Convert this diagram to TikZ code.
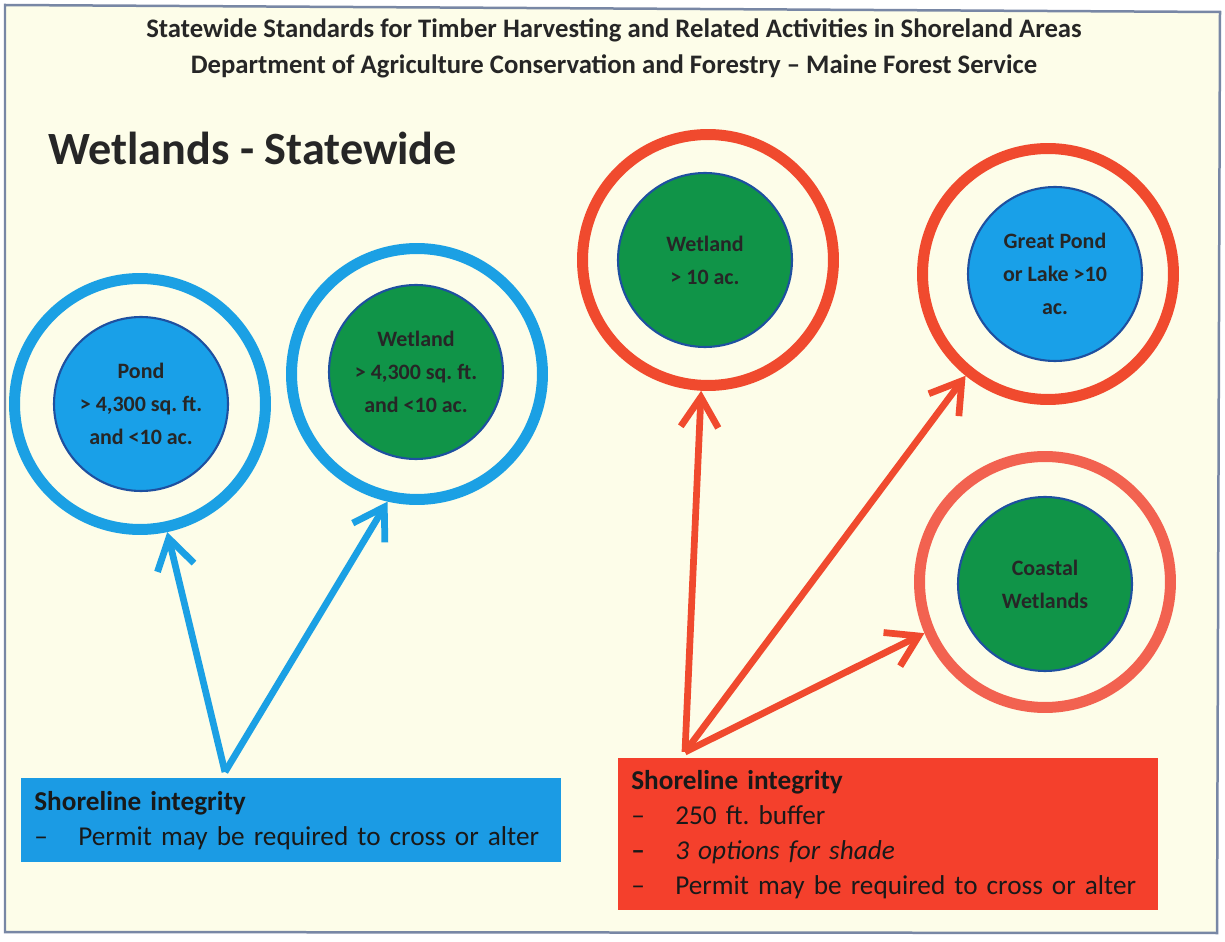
\documentclass[tikz,border=0pt]{standalone}
\usepackage{fontspec}
\setmainfont{Carlito}
\usetikzlibrary{arrows.meta}
\definecolor{cream}{RGB}{253,253,233}
\definecolor{framegray}{RGB}{120,135,165}
\definecolor{ringblue}{RGB}{27,160,228}
\definecolor{ringred}{RGB}{240,74,46}
\definecolor{ringsalmon}{RGB}{242,98,80}
\definecolor{discblue}{RGB}{25,160,232}
\definecolor{discgreen}{RGB}{16,148,72}
\definecolor{rimblue}{RGB}{30,80,160}
\definecolor{boxblue}{RGB}{27,155,228}
\definecolor{boxred}{RGB}{244,64,44}
\newcommand{\dashitem}[1]{\makebox[0.88cm][l]{--}#1}
\frenchspacing

\begin{document}
\begin{tikzpicture}[x=0.02cm,y=-0.02cm,
  ring/.style={circle,draw,line width=0.22cm,minimum size=5.02cm,inner sep=0pt},
  disc/.style={circle,draw=rimblue,line width=1.2pt,minimum size=3.48cm,inner sep=0pt,
    align=center,text=black!85,font=\fontsize{12.5}{18.8}\selectfont\bfseries},
  pointer/.style={line width=0.135cm,-{Straight Barb[length=0.6cm,width=0.75cm]}},
  infobox/.style={anchor=north west,minimum width=10.8cm,text width=10.28cm,inner xsep=0.26cm,
    align=left,text=black!90,font=\fontsize{15.5}{19.9}\selectfont}]
	\useasboundingbox(0,0)rectangle(1225,942);
	\fill[white](0,0)rectangle(1225,942);
	\filldraw[fill=cream,draw=framegray,line width=0.05cm](5,5)--(1220,12)--(1217,933)--(5,932)--cycle;
	% headings
	\node[font=\fontsize{15.2}{18}\selectfont\bfseries,text=black!85] (title) at (614,30)
		{Statewide Standards for Timber Harvesting and Related Activities in Shoreland Areas};
	\node[font=\fontsize{15.2}{18}\selectfont\bfseries,text=black!85] (dept) at (614,66)
		{Department of Agriculture Conservation and Forestry -- Maine Forest Service};
	\node[anchor=west,font=\fontsize{26.3}{30}\selectfont\bfseries,text=black!85] (heading) at (42,148)
		{Wetlands - Statewide};
	% buffer rings
	\node[ring,draw=ringblue] (pondring) at (140,404) {};
	\node[ring,draw=ringblue] (wetring) at (417,374) {};
	\node[ring,draw=ringred] (bigwetring) at (708,260) {};
	\node[ring,draw=ringred] (lakering) at (1048,274) {};
	\node[ring,draw=ringsalmon] (coastring) at (1045,582) {};
	% water bodies
	\node[disc,fill=discblue] (pond) at (141,404) {Pond\\> 4,300 sq. ft.\\and <10 ac.};
	\node[disc,fill=discgreen] (wet) at (416,372) {Wetland\\> 4,300 sq. ft.\\and <10 ac.};
	\node[disc,fill=discgreen] (bigwet) at (705,260) {Wetland\\> 10 ac.};
	\node[disc,fill=discblue] (lake) at (1055,274) {Great Pond\\or Lake >10\\ac.};
	\node[disc,fill=discgreen] (coast) at (1045,584) {Coastal\\Wetlands};
	% standards
	\node[infobox,fill=boxblue,minimum height=1.68cm] (bluebox) at (21,778)
		{\textbf{Shoreline integrity}\\\dashitem{Permit may be required to cross or alter}};
	\node[infobox,fill=boxred,minimum height=3.04cm] (redbox) at (618,758)
		{\textbf{Shoreline integrity}\\\dashitem{250 ft. buffer}\\\textbf{\dashitem{\textit{\mdseries 3 options for shade}}}\\\dashitem{Permit may be required to cross or alter}};
	\coordinate (bluefoot) at (225,772);
	\coordinate (redfoot) at (685,752);
	\draw[pointer,ringblue] (bluefoot)--(pondring.-78);
	\draw[pointer,ringblue] (bluefoot)--(wetring.-103);
	\draw[pointer,ringred] (redfoot)--(bigwetring.-93);
	\draw[pointer,ringred] (redfoot)--(lakering.-129);
	\draw[pointer,ringred] (redfoot)--(coastring.-157);
\end{tikzpicture}
\end{document}
